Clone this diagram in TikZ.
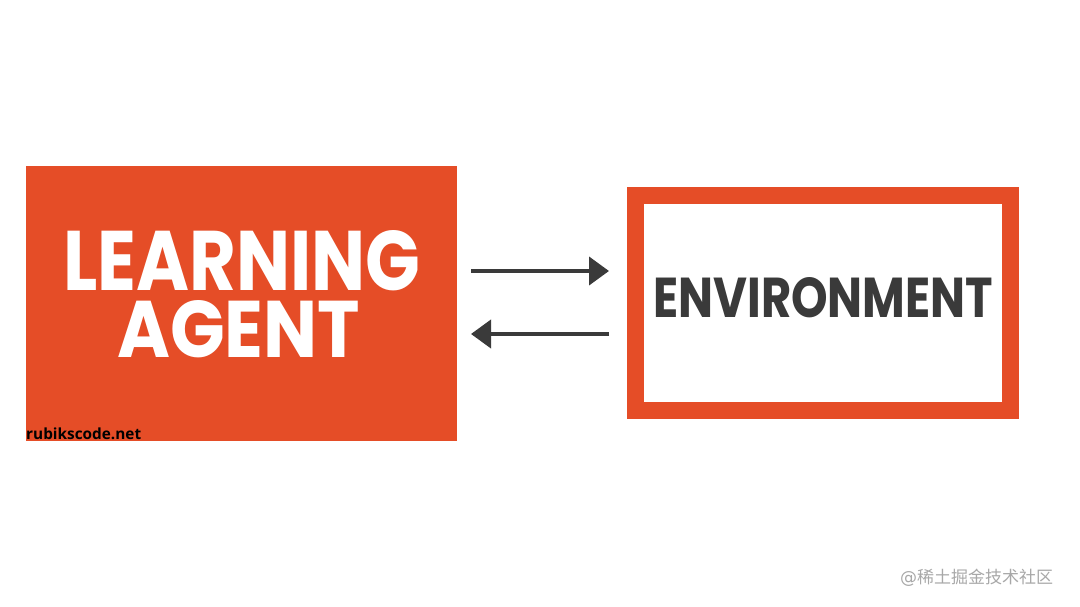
\documentclass[tikz,border=0pt]{standalone}
\usepackage{fontspec}
\setmainfont{Poppins}
\newfontfamily\cjk{Noto Sans CJK SC}
\newfontfamily\dejavu{DejaVu Sans}
\newfontfamily\opensans{Open Sans}
\usetikzlibrary{arrows.meta}
\definecolor{brand}{HTML}{E54D27}
\definecolor{ink}{HTML}{3A3A3A}
\definecolor{mark}{HTML}{A8A8A8}
\tikzset{
  agentbox/.style={fill=brand, draw=none, minimum width=431pt, minimum height=275pt, inner sep=0pt, anchor=north west},
  envbox/.style={draw=brand, fill=white, line width=17pt, minimum width=375pt, minimum height=215pt, inner sep=0pt},
  flow/.style={draw=ink, line width=4pt, -{Triangle[length=20pt,width=28pt]}},
  lbl/.style={inner sep=0pt, anchor=north west}
}
\begin{document}
\begin{tikzpicture}[x=1pt,y=-1pt]
\useasboundingbox (0,0) rectangle (1080,607);
\fill[white] (0,0) rectangle (1080,607);
% agent box
\node[agentbox] (agent) at (26,166) {};
\node[lbl, text=white] (l1) at (63,230) {\raisebox{0pt}[\height][0pt]{\resizebox{357pt}{60pt}{\bfseries LEARNING}}};
\node[lbl, text=white] (l2) at (117,300) {\raisebox{0pt}[\height][0pt]{\resizebox{243pt}{57pt}{\bfseries AGENT}}};
\node[inner sep=0pt, anchor=south west, text=black] (site) at (26,440) {\resizebox{115pt}{!}{\opensans\bfseries rubikscode.net}};
% environment box
\node[envbox] (env) at (823,303) {};
\node[lbl, text=ink] (l3) at (653,277) {\raisebox{0pt}[\height][0pt]{\resizebox{340pt}{40pt}{\bfseries ENVIRONMENT}}};
% arrows
\coordinate (t1) at (471,271);
\coordinate (t2) at (609,271);
\coordinate (b1) at (609,334);
\coordinate (b2) at (471,334);
\draw[flow] (t1) -- (t2);
\draw[flow] (b1) -- (b2);
% watermark
\node[inner sep=0pt, anchor=west, text=mark] (wm) at (900,578) {\fontsize{17pt}{17pt}\selectfont\dejavu @\cjk 稀土掘金技术社区};
\end{tikzpicture}
\end{document}
